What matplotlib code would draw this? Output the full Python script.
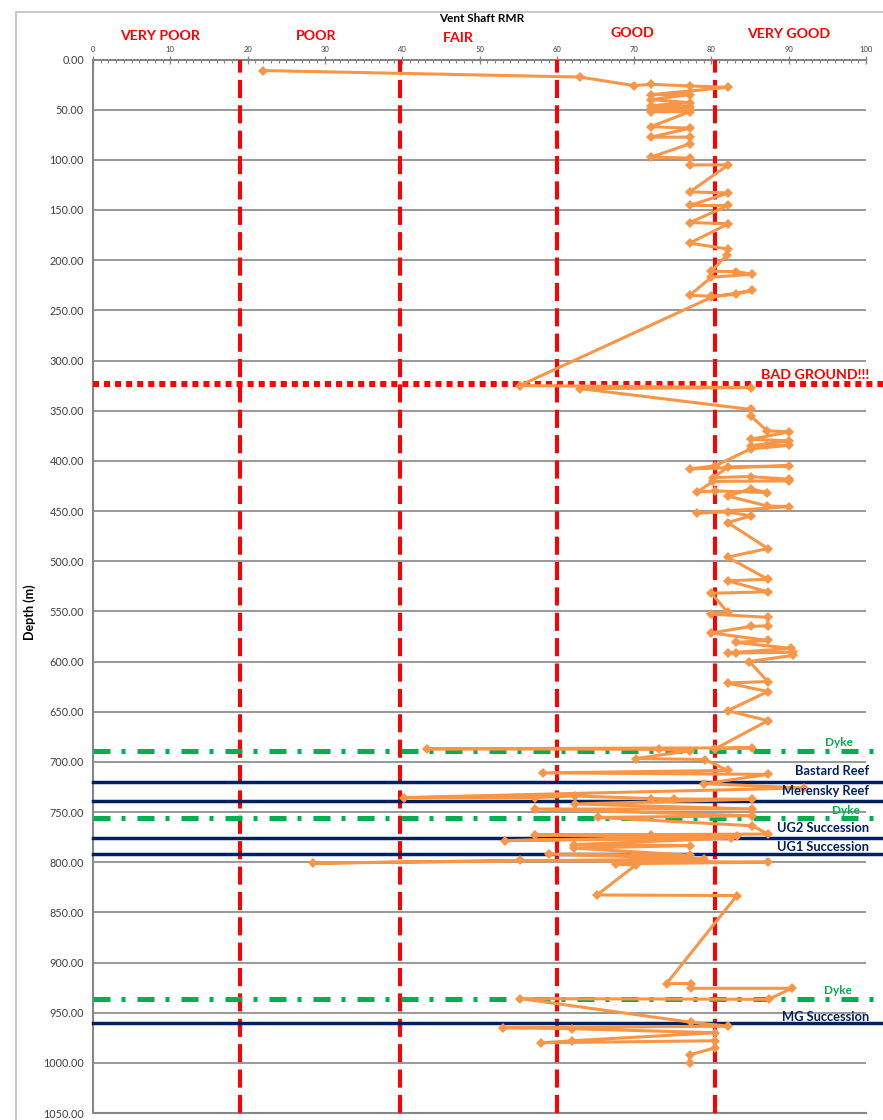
import matplotlib
matplotlib.use("Agg")
import matplotlib.pyplot as plt
from matplotlib.patches import Rectangle
from matplotlib.ticker import MultipleLocator, FormatStrFormatter

# RMR log (rmr value, depth in metres)
rmr = [22, 63, 70, 72.2, 77.2, 82.2, 72.2, 77.2, 72.2, 77.2, 72.2, 77.2,
       72.2, 77.2, 72.2, 77.2, 72.2, 77.2, 72.2, 77.2, 77.2, 72.2, 77.2, 77.2,
       82.2, 77.2, 82.2, 77.2, 82.2, 77.2, 82.2, 77.2, 82.2, 82, 80, 83.2,
       85.3, 80, 77.2, 80, 83.2, 85.3, 80,
       55.2, 85.1, 63, 85.1, 85.1, 87.2, 90.1, 85.1, 90.1, 85.1, 87.2, 90.1,
       85.1, 80.5, 77.2, 90.1, 82.2, 80.2, 85.1, 90.1, 90.1, 80.2, 78.2, 80.5,
       87.2, 85.1, 82.1, 87.2, 90.1, 78.2, 82.1, 85.1, 82.1, 87.3, 82.1, 87.3,
       82.1, 87.3, 80, 82.1, 80, 87.3, 87.3, 85.1, 80, 87.3, 83.2, 90.3, 82.1,
       83.2, 90.5, 90.5, 84.9, 87.3, 82.1, 87.3, 82.1, 87.3,
       80.5, 85.3, 43.2, 73.2, 77.2, 70.3, 79.2, 82.1, 58.2, 87.3, 79.1, 92,
       40.2, 57.2, 62.4, 72.2, 75.2, 85.3, 62.4, 85.3, 57.2, 85.3, 65.3, 85.3,
       87.3, 57.2, 72.2, 83.3, 53.3, 82.6, 62.2, 77.2, 62.2, 77.2, 59, 79.1,
       28.4, 55.2, 87.3, 67.7, 70.2, 65.2, 83.3, 74.2, 77.3, 77.3, 90.4, 87.4,
       55.3, 77.3, 82.2, 53, 62, 80.5, 62, 58, 80.5, 80.5, 77.2, 77.2]
depth = [11, 17.5, 26, 24.7, 26.4, 27.7, 35, 35, 40, 43, 46, 47,
         49, 50, 52, 52, 66.9, 68.5, 77.4, 77.4, 84, 97.3, 98.3, 105,
         105, 132, 133, 145.5, 145.5, 162.5, 163.7, 183, 189, 195, 211, 211.5,
         214, 217, 235, 236, 234, 230, 237,
         325, 327, 328, 348.8, 355.4, 370, 371, 378.6, 380, 385, 384.6, 384.6,
         388, 405, 408, 405, 406, 416.7, 415.7, 418.4, 420, 420.5, 431, 430,
         431.6, 428, 435, 445, 445.6, 452, 450.8, 455, 461.5, 487.4, 496, 518,
         519.6, 530.5, 532, 551, 552.7, 556, 564.4, 565, 571.6, 579, 581, 586.9, 591.5,
         591.5, 590.8, 594, 600, 620, 621.4, 630, 649, 659,
         687, 686, 687, 687.5, 689, 696.7, 697.7, 708.6, 711, 712.5, 721.8, 726,
         735.6, 735.6, 734, 736.6, 737, 737.3, 742, 747, 747, 753.8, 755.4, 763.7,
         772, 773, 773, 774, 778.5, 776, 782.5, 783.5, 786, 793, 792, 796.7,
         801, 798.3, 800, 801.6, 803, 832.7, 833.3, 921, 921, 925.7, 925.7, 936.7,
         936, 959.5, 963.5, 965, 966, 970, 978, 980, 978, 985, 992, 1000]

# rock mass class boundaries and labels (label x in pixels, y in pixels)
class_bounds = [19, 39.7, 60, 80.5]
class_names = ["VERY POOR", "POOR", "FAIR", "GOOD", "VERY GOOD"]
class_label_xy = [(160, 36), (316, 36), (458, 38), (632, 33), (789, 34)]

bad_ground_depth = 323
dyke_depths = [689, 756, 936]
dyke_label_xy = [(839, 742), (846, 810), (838, 990)]
horizon_depths = [720, 739, 775.5, 791.5, 960]
horizon_names = ["Bastard Reef", "Merensky Reef", "UG2 Succession", "UG1 Succession", "MG Succession"]
horizon_label_y = [771, 791, 828, 847, 1017]

W, H = 883, 1120
plt.rcParams["font.family"] = ["Lato", "DejaVu Sans"]

fig = plt.figure(figsize=(W / 100, H / 100), dpi=100)
fig.patches.append(Rectangle((16 / W, -0.01), 1.0, 1 - 12 / H + 0.01, transform=fig.transFigure,
                             fill=False, edgecolor="#BFBFBF", linewidth=1.2))

ax = fig.add_axes([93 / W, 1 - 1113 / H, (866 - 93) / W, (1113 - 59.5) / H])
ax.set_xlim(0, 100)
ax.set_ylim(1050, 0)

ax.xaxis.tick_top()
ax.xaxis.set_major_locator(MultipleLocator(10))
ax.xaxis.set_minor_locator(MultipleLocator(1))
ax.tick_params(axis="x", which="major", direction="inout", length=6, width=1, color="#868686",
               labelsize=5.5, labelcolor="#404040", pad=2)
ax.tick_params(axis="x", which="minor", direction="in", length=2.5, width=0.8, color="#868686")
ax.yaxis.set_major_locator(MultipleLocator(50))
ax.yaxis.set_major_formatter(FormatStrFormatter("%.2f"))
ax.tick_params(axis="y", length=0, labelsize=7.8, labelcolor="#404040", pad=6.5)
ax.grid(axis="y", color="#868686", linewidth=1.2)
ax.set_axisbelow(True)
for side in ["top", "left", "bottom"]:
    ax.spines[side].set_color("#868686")
    ax.spines[side].set_linewidth(1.5)
ax.spines["right"].set_visible(False)

# class boundaries
for xb in class_bounds:
    ax.axvline(xb, color="#FF0000", linewidth=2.9, dashes=(4.5, 1.8), zorder=3)

# geology markers, extending past the plot area to the chart edge
ext = (W - 93) / (866 - 93)
ax.plot([0, ext], [bad_ground_depth] * 2, transform=ax.get_yaxis_transform(), clip_on=False,
        color="#FF0000", linewidth=4.3, dashes=(1.0, 0.85), zorder=3)
for d in dyke_depths:
    ax.plot([0, ext], [d, d], transform=ax.get_yaxis_transform(), clip_on=False,
            color="#00B050", linewidth=3.6, dashes=(3.4, 2.2, 0.8, 2.4), zorder=3)
for d in horizon_depths:
    ax.plot([0, ext], [d, d], transform=ax.get_yaxis_transform(), clip_on=False,
            color="#002060", linewidth=2.5, zorder=3)

ax.plot(rmr, depth, color="#F79646", linewidth=2.2, marker="D", markersize=4.8,
        markeredgewidth=0, zorder=4)

# texts
fig.text(482 / W, 1 - 18 / H, "Vent Shaft RMR", ha="center", va="center",
         fontsize=8.5, fontweight="bold")
for name, (px, py) in zip(class_names, class_label_xy):
    fig.text(px / W, 1 - py / H, name, ha="center", va="center", fontsize=10.2,
             fontweight="bold", color="#FF0000")
fig.text(30 / W, 1 - 612 / H, "Depth (m)", rotation=90, ha="center", va="center",
         fontsize=9, fontweight="bold")
fig.text(815 / W, 1 - 375 / H, "BAD GROUND!!!", ha="center", va="center", fontsize=10.3,
         fontweight="bold", color="#FF0000")
for px, py in dyke_label_xy:
    fig.text(px / W, 1 - py / H, "Dyke", ha="center", va="center", fontsize=8.5,
             fontweight="bold", color="#00B050")
for name, py in zip(horizon_names, horizon_label_y):
    fig.text(869 / W, 1 - py / H, name, ha="right", va="center", fontsize=9.3,
             fontweight="bold", color="#002060")

fig.savefig("out.png", dpi=100)
